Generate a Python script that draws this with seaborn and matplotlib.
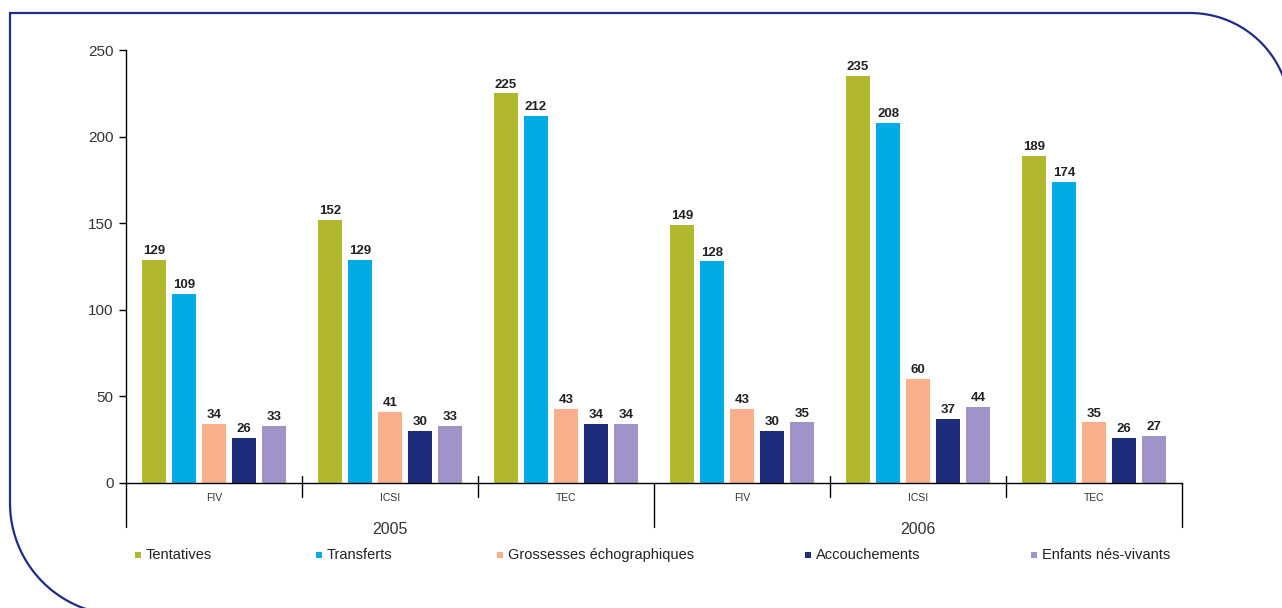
import numpy as np
import pandas as pd
import matplotlib
matplotlib.use("Agg")
import matplotlib.pyplot as plt
import seaborn as sns
from matplotlib.path import Path
from matplotlib.patches import PathPatch, Rectangle

# ---------------- data ----------------
years = ["2005", "2006"]
techniques = ["FIV", "ICSI", "TEC"]
series = ["Tentatives", "Transferts", "Grossesses échographiques",
          "Accouchements", "Enfants nés-vivants"]
tentatives = [129, 152, 225, 149, 235, 189]
transferts = [109, 129, 212, 128, 208, 174]
grossesses = [34, 41, 43, 43, 60, 35]
accouchements = [26, 30, 34, 30, 37, 26]
enfants = [33, 33, 34, 35, 44, 27]
yticks = [0, 50, 100, 150, 200, 250]
colors = ["#B1B830", "#00ACE5", "#F9AF8B", "#1E2A7A", "#A093C7"]

sns.set_theme(style="white")
plt.rcParams['font.family'] = ['Liberation Sans', 'DejaVu Sans']

groups = [f"{y} {t}" for y in years for t in techniques]
rows = []
for s, vals in zip(series, [tentatives, transferts, grossesses, accouchements, enfants]):
    for g, v in zip(groups, vals):
        rows.append(dict(groupe=g, serie=s, valeur=v))
df = pd.DataFrame(rows)

W, H = 1282, 608
fig = plt.figure(figsize=(W / 100, H / 100), dpi=100)
ax = fig.add_axes([126 / W, 1 - 483 / H, (1182 - 126) / W, (483 - 50) / H])

sns.barplot(data=df, x="groupe", y="valeur", hue="serie", order=groups,
            hue_order=series, palette=colors, width=0.852, gap=0.2,
            saturation=1, errorbar=None, linewidth=0, legend=False, ax=ax)

for cont in ax.containers:
    ax.bar_label(cont, fmt="%d", fontsize=9.5, fontweight="bold",
                 color="#222222", padding=2)

ax.set_xlim(-0.5, len(groups) - 0.5)
ax.set_ylim(0, 250)
ax.set_yticks(yticks)
ax.set_xlabel("")
ax.set_ylabel("")
for s in ["top", "right"]:
    ax.spines[s].set_visible(False)
for s in ["left", "bottom"]:
    ax.spines[s].set_color("black")
    ax.spines[s].set_linewidth(1.0)

ax.tick_params(axis="y", left=True, length=5, width=1, color="black",
               labelsize=11, labelcolor="#333333", pad=4, direction="out")
ax.set_xticks(range(len(groups)))
ax.set_xticklabels(techniques * len(years))
ax.tick_params(axis="x", bottom=False, length=0, labelsize=7.5,
               labelcolor="#333333", pad=7)

trans = ax.get_xaxis_transform()
# long separators between years
for xb in [-0.5, 2.5, 5.5]:
    ax.plot([xb, xb], [0, -44 / 433], transform=trans, color="black",
            lw=1.0, clip_on=False)
# short separators between techniques
for xb in [0.5, 1.5, 3.5, 4.5]:
    ax.plot([xb, xb], [7 / 433, -14 / 433], transform=trans, color="black",
            lw=1.0, clip_on=False)
# year labels
for i, y in enumerate(years):
    ax.text(i * 3 + 1, -46 / 433, y, transform=trans, ha="center", va="center",
            fontsize=11.5, color="#333333")

# ---------------- legend (manual placement) ----------------
px = fig.dpi_scale_trans
mk_x = [135, 316, 497, 805, 1031]
ly = 555
for x0, s, c in zip(mk_x, series, colors):
    fig.patches.append(Rectangle((x0 / 100, (H - ly - 3) / 100), 6 / 100, 6 / 100,
                                 transform=px, facecolor=c, edgecolor="none"))
    fig.text((x0 + 11) / W, 1 - ly / H, s, ha="left", va="center",
             fontsize=10.5, color="#222222")

# ---------------- frame with rounded corners ----------------
t = np.linspace(0, np.pi / 2, 40)
r1, c1 = 100, (1190, 113)
r2, c2 = 112, (122, 503)
pts = [(1290, 700)]
pts += [(c1[0] + r1 * np.cos(a), c1[1] - r1 * np.sin(a)) for a in t]
pts += [(10, 13)]
pts += [(c2[0] - r2 * np.cos(a), c2[1] + r2 * np.sin(a)) for a in t]
pts += [(1400, 615)]
verts = [(x / 100, (H - y) / 100) for x, y in pts]
fig.patches.append(PathPatch(Path(verts), transform=px, facecolor="none",
                             edgecolor="#1F2D88", lw=1.6))

fig.savefig("out.png", dpi=100)
